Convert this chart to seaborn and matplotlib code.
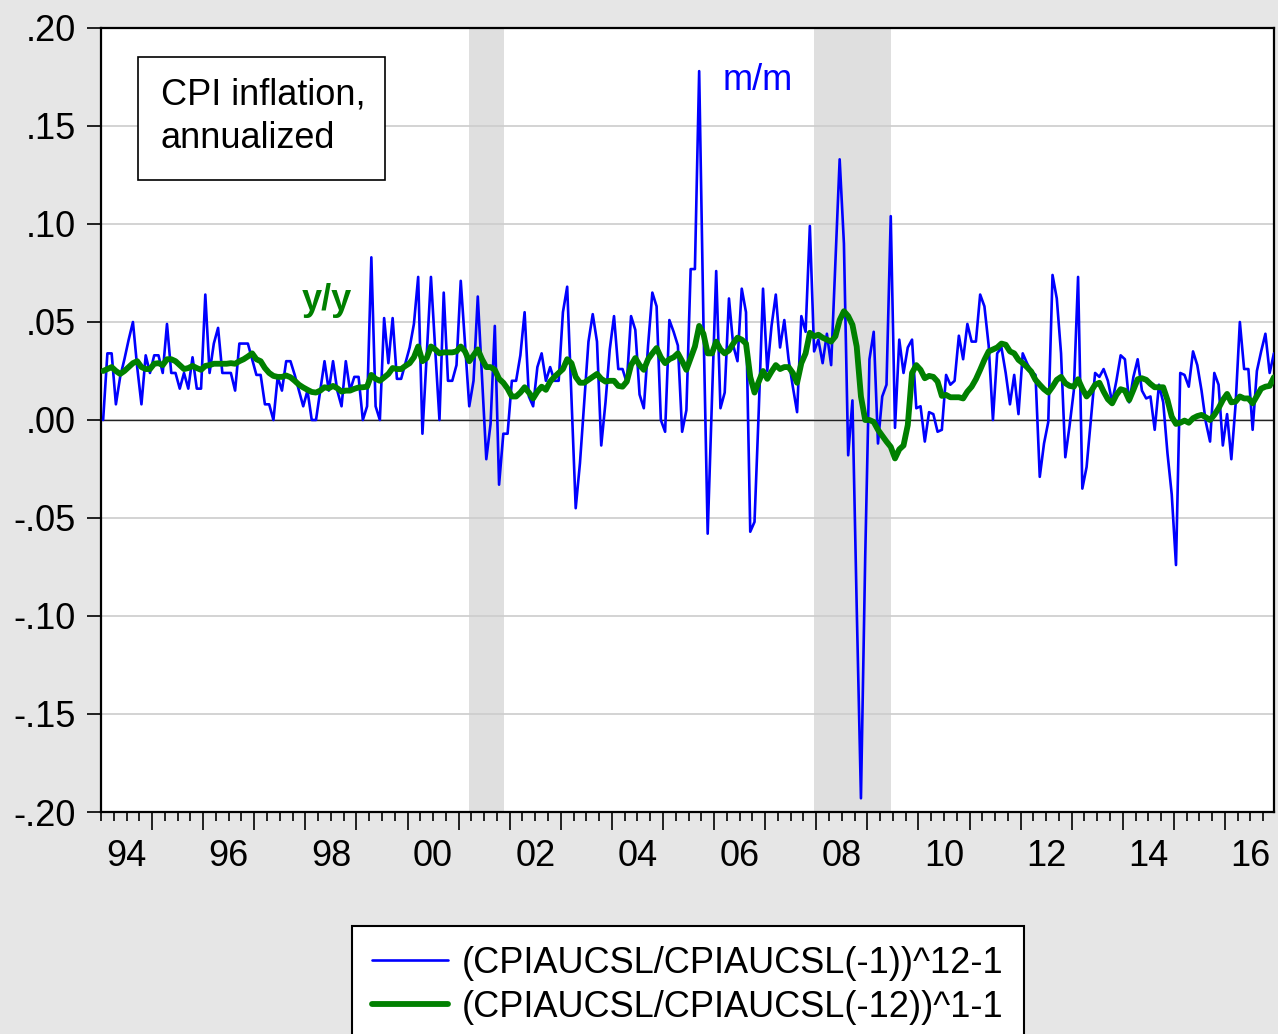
import numpy as np
import pandas as pd
import seaborn as sns
import matplotlib.pyplot as plt
from matplotlib.patches import Rectangle
from matplotlib.transforms import blended_transform_factory

# monthly data, first observation 1994m1
start_year = 1994

# m/m CPI inflation, annualized
mm = [
    0.000, 0.034, 0.034, 0.008, 0.022, 0.031, 0.041, 0.050, 0.027, 0.008, 0.033, 0.024,
    0.033, 0.033, 0.024, 0.049, 0.024, 0.024, 0.016, 0.024, 0.016, 0.032, 0.016, 0.016,
    0.064, 0.024, 0.039, 0.047, 0.024, 0.024, 0.024, 0.015, 0.039, 0.039, 0.039, 0.031,
    0.023, 0.023, 0.008, 0.008, 0.000, 0.022, 0.015, 0.030, 0.030, 0.023, 0.015, 0.007,
    0.015, 0.000, 0.000, 0.015, 0.030, 0.015, 0.030, 0.015, 0.007, 0.030, 0.015, 0.022,
    0.022, 0.000, 0.007, 0.083, 0.007, 0.000, 0.052, 0.029, 0.052, 0.021, 0.021, 0.029,
    0.037, 0.049, 0.073, -0.007, 0.033, 0.073, 0.036, 0.000, 0.065, 0.020, 0.020, 0.028,
    0.071, 0.039, 0.007, 0.020, 0.063, 0.022, -0.020, -0.002, 0.048, -0.033, -0.007, -0.007,
    0.020, 0.020, 0.033, 0.055, 0.012, 0.007, 0.027, 0.034, 0.020, 0.027, 0.020, 0.020,
    0.055, 0.068, 0.012, -0.045, -0.022, 0.009, 0.040, 0.054, 0.040, -0.013, 0.009, 0.036,
    0.053, 0.026, 0.026, 0.019, 0.053, 0.046, 0.013, 0.006, 0.038, 0.065, 0.058, 0.000,
    -0.006, 0.051, 0.045, 0.038, -0.006, 0.005, 0.077, 0.077, 0.178, 0.050, -0.058, 0.010,
    0.076, 0.006, 0.014, 0.062, 0.038, 0.030, 0.067, 0.055, -0.057, -0.052, 0.005, 0.067,
    0.025, 0.048, 0.064, 0.037, 0.051, 0.031, 0.017, 0.004, 0.053, 0.045, 0.099, 0.035,
    0.041, 0.029, 0.044, 0.028, 0.080, 0.133, 0.090, -0.018, 0.010, -0.095, -0.193, -0.070,
    0.031, 0.045, -0.012, 0.012, 0.018, 0.104, -0.004, 0.041, 0.024, 0.037, 0.041, 0.006,
    0.007, -0.011, 0.004, 0.003, -0.006, -0.005, 0.023, 0.018, 0.020, 0.043, 0.031, 0.049,
    0.040, 0.040, 0.064, 0.058, 0.038, 0.000, 0.034, 0.037, 0.024, 0.008, 0.023, 0.003,
    0.034, 0.029, 0.025, 0.023, -0.029, -0.012, -0.001, 0.074, 0.062, 0.034, -0.019, -0.003,
    0.015, 0.073, -0.035, -0.024, 0.000, 0.024, 0.022, 0.026, 0.020, 0.009, 0.020, 0.033,
    0.031, 0.009, 0.022, 0.031, 0.015, 0.011, 0.012, -0.005, 0.018, 0.009, -0.017, -0.038,
    -0.074, 0.024, 0.023, 0.017, 0.035, 0.028, 0.015, -0.001, -0.011, 0.024, 0.018, -0.013,
    0.003, -0.020, 0.008, 0.050, 0.026, 0.026, -0.005, 0.025, 0.035, 0.044, 0.024, 0.034,
]

# y/y CPI inflation
yy = [
    0.0250, 0.0260, 0.0270, 0.0250, 0.0235, 0.0250, 0.0270, 0.0290, 0.0300, 0.0270, 0.0260, 0.0260,
    0.0287, 0.0290, 0.0280, 0.0310, 0.0310, 0.0300, 0.0280, 0.0260, 0.0265, 0.0276, 0.0265, 0.0256,
    0.0276, 0.0280, 0.0287, 0.0287, 0.0287, 0.0287, 0.0290, 0.0287, 0.0300, 0.0310, 0.0324, 0.0340,
    0.0310, 0.0300, 0.0265, 0.0240, 0.0225, 0.0220, 0.0220, 0.0227, 0.0218, 0.0200, 0.0180, 0.0166,
    0.0154, 0.0143, 0.0140, 0.0150, 0.0167, 0.0162, 0.0174, 0.0162, 0.0145, 0.0150, 0.0150, 0.0159,
    0.0166, 0.0167, 0.0170, 0.0230, 0.0210, 0.0200, 0.0217, 0.0235, 0.0265, 0.0260, 0.0260, 0.0276,
    0.0290, 0.0320, 0.0375, 0.0300, 0.0316, 0.0375, 0.0360, 0.0340, 0.0345, 0.0345, 0.0345, 0.0350,
    0.0375, 0.0350, 0.0300, 0.0330, 0.0360, 0.0310, 0.0270, 0.0270, 0.0256, 0.0210, 0.0190, 0.0160,
    0.0120, 0.0120, 0.0140, 0.0167, 0.0140, 0.0110, 0.0145, 0.0170, 0.0154, 0.0196, 0.0220, 0.0240,
    0.0260, 0.0310, 0.0290, 0.0220, 0.0190, 0.0190, 0.0205, 0.0220, 0.0235, 0.0210, 0.0196, 0.0200,
    0.0200, 0.0174, 0.0170, 0.0196, 0.0280, 0.0316, 0.0280, 0.0256, 0.0310, 0.0340, 0.0367, 0.0320,
    0.0290, 0.0310, 0.0320, 0.0340, 0.0300, 0.0256, 0.0316, 0.0375, 0.0480, 0.0440, 0.0340, 0.0340,
    0.0400, 0.0360, 0.0340, 0.0355, 0.0390, 0.0420, 0.0410, 0.0390, 0.0220, 0.0140, 0.0196, 0.0250,
    0.0210, 0.0247, 0.0280, 0.0260, 0.0270, 0.0270, 0.0240, 0.0190, 0.0290, 0.0340, 0.0445, 0.0427,
    0.0435, 0.0420, 0.0410, 0.0400, 0.0427, 0.0510, 0.0555, 0.0530, 0.0486, 0.0375, 0.0120, 0.0000,
    0.0000, -0.0010, -0.0050, -0.0080, -0.0110, -0.0137, -0.0196, -0.0150, -0.0130, -0.0026, 0.0240, 0.0280,
    0.0256, 0.0213, 0.0225, 0.0220, 0.0196, 0.0123, 0.0128, 0.0116, 0.0116, 0.0116, 0.0110, 0.0145,
    0.0170, 0.0208, 0.0256, 0.0307, 0.0350, 0.0360, 0.0370, 0.0390, 0.0384, 0.0350, 0.0340, 0.0307,
    0.0290, 0.0270, 0.0247, 0.0205, 0.0180, 0.0157, 0.0140, 0.0170, 0.0205, 0.0220, 0.0188, 0.0174,
    0.0170, 0.0208, 0.0160, 0.0120, 0.0145, 0.0180, 0.0190, 0.0145, 0.0106, 0.0085, 0.0128, 0.0157,
    0.0150, 0.0102, 0.0154, 0.0208, 0.0213, 0.0205, 0.0184, 0.0167, 0.0167, 0.0167, 0.0102, 0.0017,
    -0.0020, -0.0014, -0.0003, -0.0014, 0.0009, 0.0020, 0.0026, 0.0014, 0.0000, 0.0026, 0.0060, 0.0102,
    0.0133, 0.0090, 0.0094, 0.0120, 0.0110, 0.0110, 0.0085, 0.0123, 0.0160, 0.0170, 0.0174, 0.0218,
]

recessions = [(2001.21, 2001.89), (2007.96, 2009.47)]
year_labels = ['94', '96', '98', '00', '02', '04', '06', '08', '10', '12', '14', '16']
y_ticks = [-0.20, -0.15, -0.10, -0.05, 0.00, 0.05, 0.10, 0.15, 0.20]
y_labels = ['-.20', '-.15', '-.10', '-.05', '.00', '.05', '.10', '.15', '.20']
legend_labels = ['(CPIAUCSL/CPIAUCSL(-1))^12-1', '(CPIAUCSL/CPIAUCSL(-12))^1-1']

n = len(mm)
df = pd.DataFrame({
    'date': start_year + (np.arange(n) + 0.5) / 12,
    'mm': mm,
    'yy': yy,
})

sns.set_style('white')
plt.rcParams['font.family'] = ['Liberation Sans', 'DejaVu Sans']
plt.rcParams['text.color'] = 'black'
plt.rcParams['xtick.color'] = 'black'
plt.rcParams['ytick.color'] = 'black'
plt.rcParams['axes.labelcolor'] = 'black'
FS = 26

W, H = 1278, 1034
fig = plt.figure(figsize=(W / 100, H / 100), dpi=100, facecolor='#e6e6e6')
ax = fig.add_axes([101 / W, 1 - 812 / H, (1274 - 101) / W, (812 - 28) / H])
ax.set_facecolor('white')

for a, b in recessions:
    ax.axvspan(a, b, color='#dfdfdf', lw=0, zorder=0)

sns.lineplot(data=df, x='date', y='mm', ax=ax, color='#0000ff', lw=1.9,
             label=legend_labels[0], zorder=3)
sns.lineplot(data=df, x='date', y='yy', ax=ax, color='#008000', lw=4.2,
             label=legend_labels[1], zorder=4)
ax.axhline(0, color='#222222', lw=1.0, zorder=2)

# axes
ax.set_xlim(1994.02, 2016.96)
ax.set_ylim(-0.20, 0.20)
ax.set_xlabel('')
ax.set_ylabel('')
ax.set_axisbelow(True)
ax.yaxis.grid(True, color='#cccccc', lw=1.2)
ax.xaxis.grid(False)
ax.set_yticks(y_ticks, y_labels)
ax.set_xticks(list(range(1995, 2017)))
ax.set_xticks(np.arange(1994, 2017, 0.25), minor=True)
ax.set_xticklabels([])
ax.tick_params(axis='y', direction='out', length=10, width=1.2, pad=8,
               labelsize=FS, left=True, right=False, colors='black')
ax.tick_params(axis='x', which='major', direction='out', length=13, width=1.2,
               bottom=True, colors='black')
ax.tick_params(axis='x', which='minor', direction='out', length=6.5, width=1.2,
               bottom=True, colors='black')
for s in ax.spines.values():
    s.set_color('black')
    s.set_linewidth(1.6)

trans = blended_transform_factory(ax.transData, ax.transAxes)
for i, lbl in enumerate(year_labels):
    ax.text(start_year + 2 * i + 0.5, -0.057, lbl, transform=trans,
            ha='center', va='center', fontsize=FS, color='black')

# annotations
ax.add_patch(Rectangle((138 / W, 1 - 180 / H), (385 - 138) / W, (180 - 57) / H,
                       transform=fig.transFigure, facecolor='white', edgecolor='black',
                       lw=1.2, zorder=6, clip_on=False))
ax.text(161 / W, 1 - 117 / H, 'CPI inflation,\nannualized', transform=fig.transFigure,
        ha='left', va='center', fontsize=FS, linespacing=1.3, zorder=7, color='black')
ax.text(2006.85, 0.173, 'm/m', color='#0000ff', fontsize=FS, ha='center', va='center')
ax.text(1998.43, 0.061, 'y/y', color='#008000', fontsize=FS, fontweight='bold',
        ha='center', va='center')

# legend at the bottom, partly cut off like the original
handles, labels = ax.get_legend_handles_labels()
ax.get_legend().remove()
leg = fig.legend(handles, labels, loc='upper left', bbox_to_anchor=(352 / W, 1 - 926 / H),
                 frameon=True, fancybox=False, edgecolor='black', facecolor='white',
                 framealpha=1, fontsize=FS, handlelength=2.1, handletextpad=0.4,
                 borderpad=0.55, labelspacing=0.25, borderaxespad=0)
leg.get_frame().set_linewidth(1.5)
for txt in leg.get_texts():
    txt.set_color('black')

fig.savefig('out.png', dpi=100, facecolor=fig.get_facecolor())
